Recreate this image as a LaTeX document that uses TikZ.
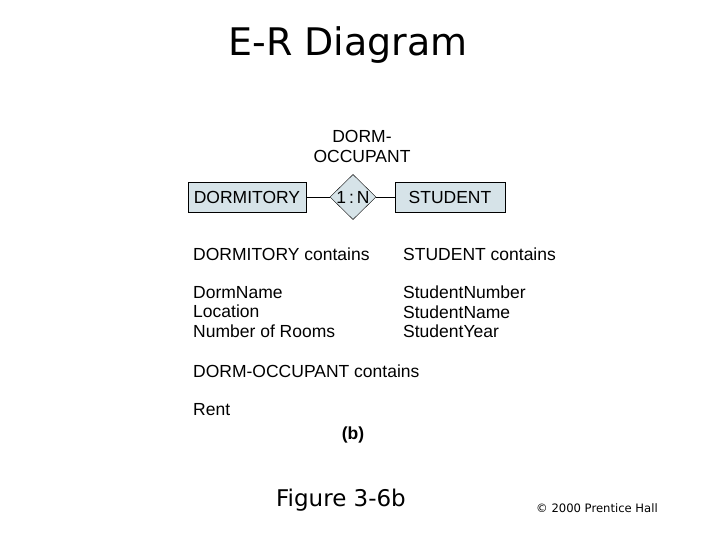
\documentclass[tikz,border=0pt]{standalone}
\usepackage{fontspec}
\setmainfont{Liberation Sans}
\newfontfamily\ttl{DejaVu Sans}
\usetikzlibrary{shapes.geometric}
\definecolor{ent}{HTML}{D6E3E8}
\begin{document}
\begin{tikzpicture}[x=1pt,y=-1pt,
  entity/.style={draw,fill=ent,minimum width=118pt,minimum height=30pt,font=\fontsize{17.5}{20}\selectfont,inner sep=0},
  txt/.style={anchor=west,font=\fontsize{17.5}{19.5}\selectfont,inner sep=0}]
\useasboundingbox (0,0) rectangle (720,540);
\node[font=\ttl\fontsize{38}{44}\selectfont] (title) at (348,45) {E-R Diagram};
\node[entity] (dorm) at (247,197) {DORMITORY};
\node[entity,minimum width=110pt] (stud) at (450,197) {STUDENT};
\node[diamond,draw,fill=ent,minimum width=46pt,minimum height=42pt,inner sep=0,font=\fontsize{17.5}{20}\selectfont] (rel) at (353,197) {1\,:\,N};
\node[font=\fontsize{17.5}{20}\selectfont,align=center,inner sep=0] (rname) at (362,146) {DORM-\\OCCUPANT};
\draw (dorm) -- (rel) -- (stud);
\node[txt] (t1) at (193,254) {DORMITORY contains};
\node[txt] (t2) at (403,254) {STUDENT contains};
\node[txt,align=left] (t3) at (193,312) {DormName\\Location\\Number of Rooms};
\node[txt,align=left] (t4) at (403,312) {StudentNumber\\StudentName\\StudentYear};
\node[txt] (t5) at (193,371) {DORM-OCCUPANT contains};
\node[txt] (t6) at (193,410) {Rent};
\node[font=\bfseries\fontsize{17.5}{20}\selectfont] (b) at (353,435) {(b)};
\node[font=\ttl\fontsize{23}{26}\selectfont] (fig) at (341,500) {Figure 3-6b};
\node[font=\ttl\fontsize{11.6}{13}\selectfont] (copy) at (597,508) {© 2000 Prentice Hall};
\end{tikzpicture}
\end{document}
